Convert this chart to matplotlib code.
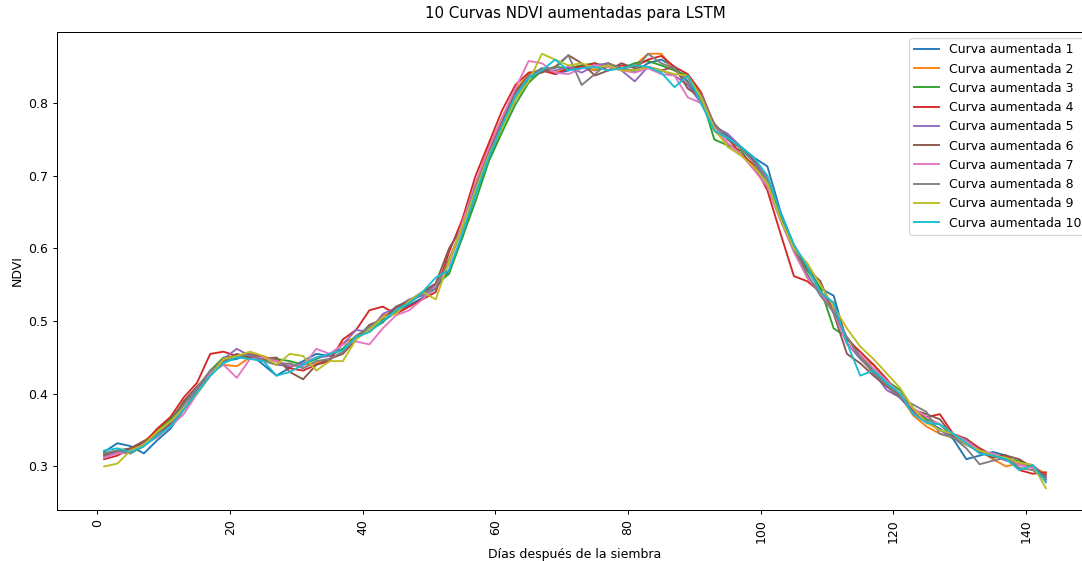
import matplotlib
matplotlib.use("Agg")
import matplotlib.pyplot as plt

# dias despues de la siembra (cada 2 dias)
dias = list(range(1, 144, 2))

curva1 = [0.320, 0.332, 0.328, 0.318, 0.336, 0.352, 0.378, 0.400, 0.425, 0.445, 0.448, 0.455,
          0.440, 0.425, 0.436, 0.445, 0.455, 0.452, 0.462, 0.478, 0.488, 0.500, 0.512, 0.522,
          0.532, 0.545, 0.570, 0.615, 0.675, 0.722, 0.765, 0.805, 0.832, 0.848, 0.840, 0.845,
          0.850, 0.845, 0.852, 0.848, 0.843, 0.855, 0.860, 0.850, 0.830, 0.800, 0.770, 0.755,
          0.740, 0.725, 0.713, 0.650, 0.605, 0.575, 0.545, 0.535, 0.470, 0.450, 0.430, 0.415,
          0.398, 0.375, 0.362, 0.352, 0.338, 0.310, 0.315, 0.320, 0.315, 0.302, 0.300, 0.285]
curva2 = [0.315, 0.318, 0.325, 0.335, 0.348, 0.362, 0.385, 0.410, 0.430, 0.440, 0.438, 0.450,
          0.452, 0.445, 0.438, 0.440, 0.442, 0.448, 0.470, 0.478, 0.488, 0.508, 0.512, 0.528,
          0.540, 0.550, 0.585, 0.630, 0.690, 0.740, 0.780, 0.818, 0.840, 0.845, 0.842, 0.848,
          0.852, 0.845, 0.855, 0.848, 0.852, 0.868, 0.868, 0.845, 0.835, 0.805, 0.762, 0.745,
          0.730, 0.712, 0.700, 0.645, 0.600, 0.560, 0.540, 0.515, 0.470, 0.450, 0.440, 0.420,
          0.398, 0.370, 0.355, 0.345, 0.340, 0.332, 0.322, 0.310, 0.300, 0.305, 0.300, 0.290]
curva3 = [0.318, 0.322, 0.320, 0.328, 0.350, 0.365, 0.388, 0.405, 0.432, 0.450, 0.452, 0.450,
          0.445, 0.448, 0.445, 0.440, 0.448, 0.455, 0.462, 0.480, 0.488, 0.498, 0.518, 0.525,
          0.540, 0.550, 0.565, 0.615, 0.665, 0.720, 0.760, 0.798, 0.828, 0.845, 0.850, 0.848,
          0.852, 0.855, 0.850, 0.848, 0.855, 0.858, 0.852, 0.845, 0.838, 0.810, 0.750, 0.742,
          0.735, 0.710, 0.685, 0.640, 0.598, 0.570, 0.545, 0.490, 0.478, 0.455, 0.432, 0.418,
          0.405, 0.380, 0.365, 0.358, 0.340, 0.330, 0.325, 0.315, 0.310, 0.308, 0.300, 0.282]
curva4 = [0.310, 0.315, 0.325, 0.332, 0.352, 0.368, 0.395, 0.415, 0.455, 0.458, 0.452, 0.455,
          0.450, 0.445, 0.435, 0.432, 0.440, 0.445, 0.475, 0.488, 0.515, 0.520, 0.510, 0.520,
          0.530, 0.540, 0.595, 0.640, 0.700, 0.745, 0.790, 0.825, 0.842, 0.845, 0.840, 0.848,
          0.850, 0.855, 0.845, 0.852, 0.850, 0.860, 0.865, 0.850, 0.840, 0.815, 0.770, 0.752,
          0.730, 0.715, 0.680, 0.620, 0.562, 0.555, 0.540, 0.525, 0.475, 0.458, 0.440, 0.420,
          0.395, 0.375, 0.368, 0.372, 0.345, 0.338, 0.325, 0.315, 0.315, 0.295, 0.290, 0.292]
curva5 = [0.313, 0.320, 0.318, 0.332, 0.345, 0.358, 0.380, 0.405, 0.430, 0.448, 0.462, 0.452,
          0.450, 0.440, 0.438, 0.442, 0.450, 0.452, 0.468, 0.488, 0.485, 0.510, 0.518, 0.530,
          0.535, 0.550, 0.580, 0.628, 0.688, 0.735, 0.778, 0.815, 0.835, 0.845, 0.845, 0.850,
          0.842, 0.852, 0.855, 0.845, 0.830, 0.850, 0.845, 0.838, 0.825, 0.800, 0.768, 0.758,
          0.740, 0.722, 0.695, 0.642, 0.600, 0.575, 0.538, 0.520, 0.470, 0.448, 0.430, 0.405,
          0.395, 0.375, 0.362, 0.350, 0.340, 0.330, 0.320, 0.315, 0.308, 0.305, 0.302, 0.285]
curva6 = [0.316, 0.322, 0.325, 0.335, 0.342, 0.360, 0.390, 0.410, 0.425, 0.445, 0.455, 0.450,
          0.448, 0.450, 0.430, 0.420, 0.440, 0.448, 0.455, 0.475, 0.495, 0.502, 0.520, 0.528,
          0.540, 0.552, 0.600, 0.630, 0.685, 0.735, 0.775, 0.815, 0.838, 0.842, 0.850, 0.866,
          0.855, 0.838, 0.845, 0.855, 0.848, 0.850, 0.845, 0.850, 0.820, 0.808, 0.772, 0.750,
          0.738, 0.720, 0.690, 0.645, 0.602, 0.572, 0.555, 0.510, 0.455, 0.442, 0.425, 0.410,
          0.395, 0.378, 0.372, 0.365, 0.342, 0.338, 0.320, 0.312, 0.315, 0.310, 0.298, 0.288]
curva7 = [0.312, 0.318, 0.320, 0.330, 0.340, 0.355, 0.372, 0.400, 0.428, 0.440, 0.422, 0.448,
          0.450, 0.445, 0.440, 0.438, 0.462, 0.455, 0.468, 0.472, 0.468, 0.490, 0.508, 0.515,
          0.530, 0.548, 0.578, 0.635, 0.690, 0.738, 0.780, 0.820, 0.858, 0.855, 0.842, 0.840,
          0.848, 0.852, 0.850, 0.845, 0.842, 0.848, 0.840, 0.838, 0.808, 0.800, 0.768, 0.745,
          0.730, 0.708, 0.685, 0.638, 0.595, 0.560, 0.538, 0.512, 0.468, 0.455, 0.435, 0.418,
          0.400, 0.380, 0.368, 0.358, 0.345, 0.335, 0.322, 0.318, 0.310, 0.302, 0.298, 0.280]
curva8 = [0.318, 0.322, 0.318, 0.328, 0.345, 0.362, 0.385, 0.408, 0.432, 0.445, 0.450, 0.455,
          0.445, 0.440, 0.442, 0.435, 0.445, 0.448, 0.458, 0.480, 0.492, 0.505, 0.512, 0.525,
          0.538, 0.545, 0.585, 0.628, 0.685, 0.728, 0.770, 0.810, 0.838, 0.848, 0.848, 0.866,
          0.825, 0.840, 0.855, 0.848, 0.845, 0.868, 0.855, 0.848, 0.828, 0.812, 0.770, 0.752,
          0.738, 0.718, 0.692, 0.640, 0.600, 0.565, 0.535, 0.512, 0.478, 0.450, 0.428, 0.412,
          0.395, 0.385, 0.375, 0.345, 0.340, 0.325, 0.303, 0.308, 0.312, 0.298, 0.295, 0.282]
curva9 = [0.300, 0.304, 0.322, 0.330, 0.348, 0.362, 0.380, 0.400, 0.425, 0.448, 0.452, 0.458,
          0.452, 0.440, 0.455, 0.452, 0.432, 0.445, 0.445, 0.475, 0.488, 0.505, 0.510, 0.528,
          0.540, 0.530, 0.582, 0.630, 0.680, 0.728, 0.765, 0.805, 0.830, 0.868, 0.860, 0.852,
          0.855, 0.848, 0.852, 0.845, 0.845, 0.850, 0.845, 0.840, 0.838, 0.808, 0.765, 0.740,
          0.728, 0.712, 0.690, 0.640, 0.600, 0.580, 0.550, 0.520, 0.490, 0.465, 0.448, 0.428,
          0.408, 0.380, 0.360, 0.350, 0.345, 0.330, 0.322, 0.315, 0.312, 0.305, 0.302, 0.270]
curva10 = [0.322, 0.325, 0.320, 0.328, 0.342, 0.355, 0.378, 0.402, 0.425, 0.442, 0.450, 0.448,
           0.445, 0.425, 0.430, 0.440, 0.450, 0.455, 0.460, 0.478, 0.485, 0.500, 0.515, 0.525,
           0.540, 0.560, 0.570, 0.620, 0.675, 0.725, 0.770, 0.810, 0.835, 0.845, 0.860, 0.845,
           0.848, 0.850, 0.845, 0.848, 0.852, 0.850, 0.842, 0.822, 0.838, 0.800, 0.762, 0.752,
           0.740, 0.725, 0.700, 0.648, 0.605, 0.575, 0.540, 0.525, 0.470, 0.425, 0.432, 0.415,
           0.400, 0.372, 0.360, 0.358, 0.345, 0.332, 0.318, 0.315, 0.310, 0.295, 0.302, 0.278]

curvas = [curva1, curva2, curva3, curva4, curva5, curva6, curva7, curva8, curva9, curva10]
etiquetas = ['Curva aumentada {}'.format(i) for i in range(1, 11)]

fig = plt.figure(figsize=(1082 / 90, 561 / 90), dpi=90)
ax = fig.add_axes([0.0527, 0.0909, 0.9575, 0.852])

for c, lab in zip(curvas, etiquetas):
    ax.plot(dias, c, label=lab)

ax.set_xticks([0, 20, 40, 60, 80, 100, 120, 140])
ax.tick_params(axis='x', labelrotation=90)
ax.set_title('10 Curvas NDVI aumentadas para LSTM', pad=11)
ax.set_xlabel('Días después de la siembra')
ax.set_ylabel('NDVI')
ax.legend(loc='upper right')

fig.savefig('out.png', dpi=90)
